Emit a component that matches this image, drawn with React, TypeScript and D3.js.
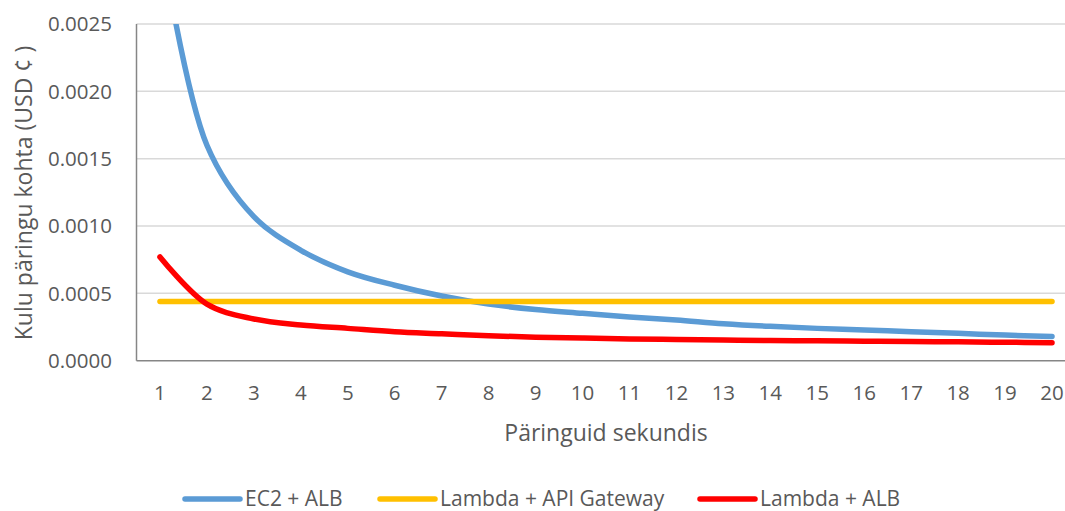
import React from "react";
import * as d3 from "d3";

// Requests per second (x categories)
const requestsPerSecond = [1, 2, 3, 4, 5, 6, 7, 8, 9, 10, 11, 12, 13, 14, 15, 16, 17, 18, 19, 20];

// Cost per request, USD cents
const ec2Alb = [
  0.00316, 0.0016, 0.00107, 0.00082, 0.00066, 0.00056, 0.00048, 0.00042, 0.00038, 0.000352,
  0.000325, 0.000302, 0.000275, 0.000255, 0.00024, 0.000228, 0.000215, 0.000203, 0.00019, 0.00018,
];
const lambdaApiGateway = [
  0.00044, 0.00044, 0.00044, 0.00044, 0.00044, 0.00044, 0.00044, 0.00044, 0.00044, 0.00044,
  0.00044, 0.00044, 0.00044, 0.00044, 0.00044, 0.00044, 0.00044, 0.00044, 0.00044, 0.00044,
];
const lambdaAlb = [
  0.00077, 0.00042, 0.00031, 0.000265, 0.00024, 0.000215, 0.0002, 0.000185, 0.000175, 0.000168,
  0.000162, 0.000158, 0.000154, 0.00015, 0.000148, 0.000145, 0.000142, 0.00014, 0.000137, 0.000134,
];

const yTicks = [0, 0.0005, 0.001, 0.0015, 0.002, 0.0025];

const seriesNames = ["EC2 + ALB", "Lambda + API Gateway", "Lambda + ALB"];
const seriesColors = ["#5b9bd5", "#ffc000", "#ff0000"];
const seriesValues = [ec2Alb, lambdaApiGateway, lambdaAlb];

const W = 1065;
const H = 511;
const plot = { left: 136.5, right: 1075.5, top: 24, bottom: 360.7 };
const font = "'Open Sans', 'Noto Sans', sans-serif";
const textColor = "#595959";

export default function App() {
  const x = d3
    .scaleLinear()
    .domain([0.5, requestsPerSecond.length + 0.5])
    .range([plot.left, plot.right]);
  const y = d3.scaleLinear().domain([0, 0.0025]).range([plot.bottom, plot.top]);

  const line = d3
    .line<number>()
    .x((_, i) => x(requestsPerSecond[i]))
    .y((v) => y(v))
    .curve(d3.curveCatmullRom.alpha(0.5));

  const legendItems = [
    { lineX: 185, textX: 245 },
    { lineX: 380, textX: 440 },
    { lineX: 700, textX: 760 },
  ];
  const legendY = 499;

  return (
    <svg
      width={W}
      height={H}
      style={{ position: "absolute", left: 0, top: 0, background: "#fff" }}
      fontFamily={font}
    >
      <defs>
        <clipPath id="plot-clip">
          <rect x={plot.left} y={plot.top} width={plot.right - plot.left} height={plot.bottom - plot.top} />
        </clipPath>
      </defs>

      {/* horizontal gridlines */}
      {yTicks.slice(1).map((t) => (
        <line key={t} x1={plot.left} x2={plot.right} y1={y(t)} y2={y(t)} stroke="#d9d9d9" strokeWidth={1.5} />
      ))}

      {/* axes */}
      <line x1={plot.left} x2={plot.left} y1={plot.top} y2={plot.bottom} stroke="#868686" strokeWidth={1.5} />
      <line x1={plot.left} x2={plot.right} y1={plot.bottom} y2={plot.bottom} stroke="#868686" strokeWidth={1.5} />

      {/* y tick labels */}
      {yTicks.map((t) => (
        <text key={t} x={112} y={y(t)} dy="0.35em" textAnchor="end" fontSize={20.5} fill={textColor}>
          {d3.format(".4f")(t)}
        </text>
      ))}

      {/* x tick labels */}
      {requestsPerSecond.map((c) => (
        <text key={c} x={x(c)} y={393} dy="0.35em" textAnchor="middle" fontSize={20.5} fill={textColor}>
          {c}
        </text>
      ))}

      {/* axis titles */}
      <text x={(plot.left + plot.right) / 2} y={441} textAnchor="middle" fontSize={23} fill={textColor}>
        Päringuid sekundis
      </text>
      <text
        transform={`translate(32, 193) rotate(-90)`}
        textAnchor="middle"
        fontSize={23}
        fill={textColor}
      >
        Kulu päringu kohta (USD ¢ )
      </text>

      {/* series */}
      <g clipPath="url(#plot-clip)">
        {seriesValues.map((vals, i) => (
          <path
            key={seriesNames[i]}
            d={line(vals) ?? ""}
            fill="none"
            stroke={seriesColors[i]}
            strokeWidth={5.5}
            strokeLinecap="round"
            strokeLinejoin="round"
          />
        ))}
      </g>

      {/* legend */}
      {legendItems.map((it, i) => (
        <g key={seriesNames[i]}>
          <line
            x1={it.lineX}
            x2={it.lineX + 55}
            y1={legendY}
            y2={legendY}
            stroke={seriesColors[i]}
            strokeWidth={5.5}
            strokeLinecap="round"
          />
          <text x={it.textX} y={legendY} dy="0.35em" fontSize={21} fill={textColor}>
            {seriesNames[i]}
          </text>
        </g>
      ))}
    </svg>
  );
}
